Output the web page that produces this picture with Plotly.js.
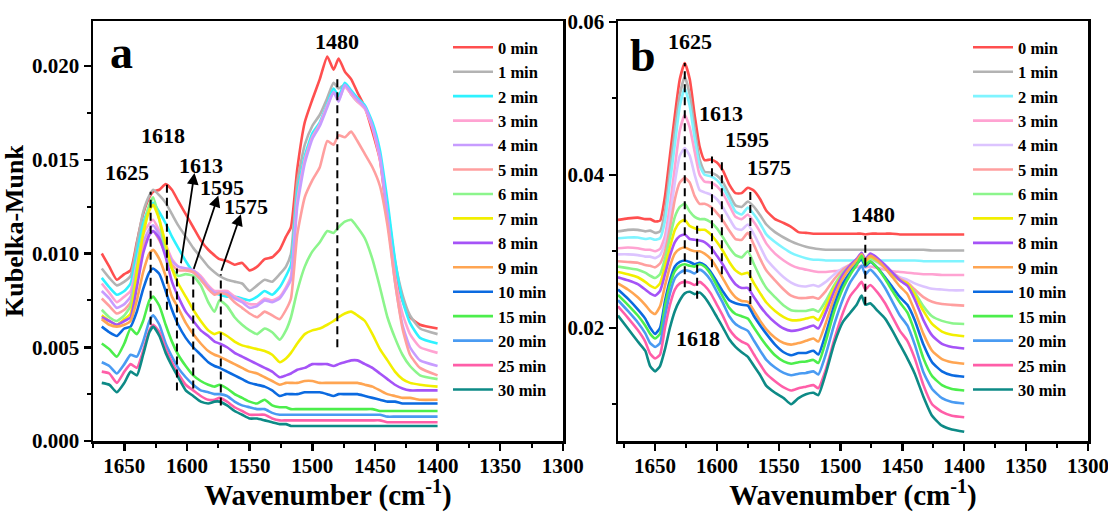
<!DOCTYPE html>
<html>
<head>
<meta charset="utf-8">
<script src="https://cdn.plot.ly/plotly-3.0.1.min.js"></script>
<style>html,body{margin:0;padding:0;background:#fff;}#chart{width:1108px;height:512px;}</style>
</head>
<body>
<div id="chart"></div>
<script>
// ---------- DATA ----------
const seriesNames = ["0 min","1 min","2 min","3 min","4 min","5 min","6 min","7 min","8 min","9 min","10 min","15 min","20 min","25 min","30 min"];
const colorsA = ["#ff4f4f","#b3b3b3","#2ef2ff","#ffa3d2","#c79cff","#ff9f9f","#8cf58c","#f2ef00","#a553f7","#ffa552","#0b6ae0","#4cee4c","#4a9bf2","#ff5ea8","#0d8a86"];
const colorsB = ["#ff4f4f","#b3b3b3","#7ff4ff","#ffa3d2","#dcc4ff","#ff9f9f","#8cf58c","#f2ef00","#a553f7","#ffa552","#0b6ae0","#4cee4c","#4a9bf2","#ff5ea8","#0d8a86"];

// Panel a wavenumbers (cm-1)
const wnA = [1668,1662,1656,1650,1645,1640,1635,1630,1627,1622,
             1617,1612,1607,1601,1595,1589,1583,1578,1574,1568,
             1562,1556,1550,1544,1538,1532,1526,1521,1517,1512,
             1506,1500,1494,1488,1483,1479,1474,1469,1464,1458,
             1452,1446,1440,1434,1428,1422,1414,1400];

const a0 = [.0100,.0093,.0086,.0089,.0091,.0106,.0121,.0130,.0133,.0134,
            .0137,.0134,.0128,.0121,.0114,.0107,.0102,.0099,.0097,.0096,
            .0094,.0095,.0091,.0093,.0097,.0098,.0102,.0109,.0114,.0145,
            .0170,.0182,.0193,.0205,.0198,.0204,.0197,.0193,.0186,.0178,
            .0165,.0150,.0118,.0090,.0075,.0066,.0062,.0060];
const a1 = [.0092,.0087,.0083,.0085,.0088,.0105,.0122,.0131,.0134,.0131,
            .0127,.0121,.0115,.0109,.0103,.0098,.0093,.0090,.0088,.0086,
            .0085,.0084,.0080,.0083,.0086,.0085,.0089,.0093,.0100,.0138,
            .0158,.0168,.0174,.0183,.0191,.0188,.0190,.0185,.0181,.0178,
            .0168,.0152,.0125,.0096,.0078,.0067,.0060,.0057];
const a2 = [.0087,.0082,.0078,.0080,.0084,.0100,.0116,.0125,.0127,.0122,
            .0116,.0109,.0103,.0096,.0090,.0086,.0082,.0079,.0078,.0077,
            .0077,.0076,.0075,.0077,.0080,.0078,.0082,.0088,.0094,.0132,
            .0152,.0164,.0170,.0180,.0188,.0184,.0191,.0187,.0183,.0179,
            .0170,.0155,.0128,.0097,.0075,.0063,.0055,.0052];
const a3 = [.0084,.0079,.0074,.0077,.0080,.0095,.0110,.0116,.0118,.0112,
            .0105,.0097,.0093,.0092,.0091,.0088,.0083,.0080,.0080,.0080,
            .0077,.0075,.0073,.0073,.0076,.0075,.0077,.0082,.0088,.0128,
            .0150,.0162,.0169,.0179,.0186,.0182,.0189,.0185,.0181,.0177,
            .0167,.0150,.0120,.0088,.0068,.0057,.0050,.0047];
const a4 = [.0080,.0076,.0071,.0073,.0077,.0092,.0106,.0113,.0115,.0110,
            .0103,.0096,.0093,.0092,.0091,.0087,.0082,.0079,.0079,.0079,
            .0076,.0074,.0071,.0072,.0075,.0074,.0076,.0081,.0086,.0125,
            .0148,.0161,.0168,.0178,.0186,.0181,.0190,.0186,.0182,.0178,
            .0168,.0152,.0120,.0085,.0062,.0050,.0043,.0040];
const a5 = [.0076,.0072,.0068,.0070,.0074,.0089,.0103,.0110,.0112,.0107,
            .0100,.0094,.0091,.0091,.0090,.0086,.0081,.0078,.0079,.0078,
            .0074,.0071,.0068,.0066,.0069,.0067,.0065,.0070,.0076,.0110,
            .0130,.0139,.0146,.0160,.0158,.0163,.0162,.0165,.0160,.0153,
            .0146,.0136,.0115,.0085,.0060,.0046,.0039,.0035];
const a6 = [.0070,.0066,.0064,.0067,.0072,.0092,.0112,.0126,.0130,.0118,
            .0100,.0092,.0088,.0089,.0088,.0083,.0074,.0069,.0075,.0072,
            .0066,.0062,.0059,.0057,.0060,.0058,.0054,.0059,.0066,.0080,
            .0093,.0101,.0106,.0112,.0111,.0114,.0117,.0118,.0114,.0108,
            .0097,.0082,.0066,.0055,.0046,.0040,.0035,.0033];
const a7 = [.0067,.0064,.0062,.0065,.0068,.0090,.0110,.0123,.0126,.0118,
            .0105,.0092,.0084,.0077,.0070,.0064,.0059,.0057,.0058,.0056,
            .0053,.0051,.0050,.0049,.0048,.0046,.0042,.0044,.0047,.0052,
            .0057,.0059,.0060,.0062,.0064,.0066,.0068,.0069,.0067,.0064,
            .0057,.0049,.0043,.0037,.0033,.0031,.0030,.0029];
const a8 = [.0066,.0064,.0062,.0064,.0066,.0082,.0100,.0110,.0112,.0108,
            .0098,.0085,.0077,.0069,.0064,.0059,.0056,.0053,.0052,.0050,
            .0047,.0045,.0043,.0041,.0039,.0037,.0034,.0035,.0036,.0038,
            .0039,.0041,.0041,.0041,.0040,.0041,.0042,.0043,.0043,.0041,
            .0039,.0036,.0033,.0030,.0028,.0027,.0027,.0027];
const a9 = [.0065,.0062,.0061,.0062,.0064,.0075,.0090,.0100,.0102,.0097,
            .0088,.0077,.0071,.0063,.0057,.0052,.0048,.0046,.0045,.0043,
            .0041,.0039,.0037,.0036,.0034,.0032,.0030,.0031,.0031,.0031,
            .0032,.0032,.0031,.0031,.0031,.0031,.0031,.0031,.0031,.0030,
            .0029,.0027,.0025,.0024,.0023,.0023,.0022,.0022];
const a10 = [.0061,.0058,.0056,.0060,.0061,.0069,.0081,.0090,.0092,.0089,
             .0080,.0070,.0062,.0055,.0050,.0046,.0042,.0040,.0039,.0037,
             .0035,.0033,.0031,.0030,.0029,.0027,.0024,.0025,.0025,.0025,
             .0026,.0026,.0026,.0025,.0024,.0025,.0025,.0025,.0025,.0024,
             .0023,.0022,.0021,.0021,.0020,.0020,.0020,.0020];
const a15 = [.0052,.0049,.0045,.0052,.0060,.0057,.0064,.0075,.0077,.0072,
             .0062,.0053,.0046,.0040,.0035,.0032,.0030,.0029,.0030,.0028,
             .0025,.0023,.0021,.0020,.0022,.0019,.0018,.0018,.0017,.0017,
             .0017,.0017,.0017,.0017,.0017,.0017,.0017,.0017,.0017,.0017,
             .0017,.0016,.0016,.0016,.0016,.0016,.0016,.0016];
const a20 = [.0042,.0040,.0036,.0041,.0046,.0045,.0053,.0064,.0067,.0062,
             .0052,.0045,.0039,.0034,.0030,.0027,.0026,.0025,.0025,.0024,
             .0021,.0019,.0018,.0017,.0017,.0015,.0014,.0014,.0014,.0014,
             .0014,.0014,.0014,.0014,.0014,.0014,.0014,.0014,.0014,.0014,
             .0014,.0014,.0013,.0013,.0013,.0013,.0013,.0013];
const a25 = [.0037,.0036,.0031,.0037,.0041,.0039,.0048,.0059,.0062,.0058,
             .0049,.0042,.0036,.0030,.0027,.0024,.0022,.0022,.0023,.0021,
             .0018,.0016,.0014,.0014,.0014,.0012,.0011,.0011,.0011,.0011,
             .0011,.0011,.0011,.0011,.0011,.0011,.0011,.0011,.0011,.0011,
             .0011,.0011,.0010,.0010,.0010,.0010,.0010,.0010];
const a30 = [.0031,.0030,.0026,.0031,.0037,.0035,.0046,.0058,.0061,.0056,
             .0047,.0040,.0034,.0027,.0024,.0021,.0020,.0021,.0021,.0019,
             .0016,.0014,.0012,.0012,.0011,.0010,.0009,.0009,.0008,.0008,
             .0008,.0008,.0008,.0008,.0008,.0008,.0008,.0008,.0008,.0008,
             .0008,.0008,.0008,.0008,.0008,.0008,.0008,.0008];

// Panel b wavenumbers (cm-1)
const wnB = [1680,1672,1664,1658,1654,1650,1646,1642,1638,1634,
             1630,1626,1622,1618,1614,1610,1605,1600,1595,1590,
             1585,1580,1575,1570,1565,1560,1553,1546,1540,1534,
             1528,1522,1518,1512,1505,1498,1492,1487,1483,1480,
             1476,1470,1464,1458,1452,1446,1440,1433,1426,1418,
             1410,1400];

const b0 = [.0341,.0343,.0344,.0342,.0342,.0339,.0340,.0372,.0425,.0478,
            .0525,.0546,.0525,.0478,.0437,.0419,.0420,.0416,.0405,.0387,
            .0376,.0376,.0383,.0379,.0368,.0353,.0342,.0337,.0332,.0325,
            .0324,.0323,.0323,.0323,.0323,.0323,.0323,.0323,.0323,.0322,
            .0323,.0323,.0323,.0323,.0322,.0322,.0322,.0322,.0322,.0322,
            .0322,.0322];
const b1 = [.0326,.0328,.0328,.0326,.0327,.0324,.0326,.0352,.0405,.0458,
            .0505,.0528,.0505,.0460,.0420,.0404,.0403,.0399,.0390,.0374,
            .0360,.0358,.0365,.0358,.0347,.0335,.0325,.0318,.0313,.0309,
            .0306,.0304,.0303,.0302,.0302,.0302,.0302,.0302,.0302,.0302,
            .0302,.0302,.0302,.0302,.0302,.0302,.0302,.0302,.0301,.0301,
            .0301,.0301];
const b2 = [.0317,.0318,.0318,.0316,.0317,.0315,.0317,.0340,.0390,.0440,
            .0490,.0513,.0490,.0448,.0412,.0400,.0398,.0393,.0383,.0368,
            .0352,.0348,.0357,.0348,.0336,.0322,.0312,.0304,.0298,.0294,
            .0291,.0289,.0289,.0288,.0288,.0288,.0288,.0288,.0288,.0288,
            .0288,.0288,.0288,.0288,.0288,.0288,.0288,.0287,.0287,.0287,
            .0287,.0287];
const b3 = [.0304,.0305,.0304,.0302,.0302,.0300,.0303,.0320,.0360,.0410,
            .0458,.0478,.0462,.0430,.0400,.0391,.0390,.0385,.0375,.0360,
            .0345,.0342,.0348,.0338,.0325,.0310,.0297,.0288,.0282,.0278,
            .0276,.0274,.0273,.0273,.0274,.0275,.0277,.0279,.0281,.0279,
            .0280,.0278,.0276,.0274,.0273,.0272,.0271,.0270,.0270,.0269,
            .0269,.0269];
const b4 = [.0296,.0296,.0295,.0293,.0293,.0291,.0295,.0310,.0345,.0390,
            .0425,.0435,.0425,.0400,.0380,.0377,.0374,.0368,.0357,.0343,
            .0330,.0328,.0335,.0322,.0306,.0290,.0277,.0266,.0259,.0255,
            .0254,.0256,.0254,.0260,.0270,.0278,.0283,.0288,.0292,.0286,
            .0290,.0285,.0278,.0272,.0266,.0263,.0258,.0254,.0251,.0250,
            .0249,.0249];
const b5 = [.0287,.0286,.0285,.0282,.0281,.0279,.0284,.0300,.0330,.0368,
            .0390,.0396,.0390,.0372,.0362,.0362,.0358,.0350,.0340,.0327,
            .0316,.0315,.0324,.0308,.0290,.0275,.0262,.0250,.0242,.0239,
            .0239,.0240,.0238,.0248,.0264,.0276,.0283,.0289,.0293,.0287,
            .0292,.0287,.0280,.0272,.0264,.0259,.0250,.0240,.0234,.0231,
            .0230,.0229];
const b6 = [.0280,.0278,.0276,.0272,.0268,.0265,.0270,.0290,.0318,.0345,
            .0358,.0362,.0352,.0345,.0342,.0342,.0338,.0330,.0318,.0305,
            .0295,.0292,.0300,.0283,.0266,.0252,.0240,.0229,.0223,.0222,
            .0222,.0224,.0221,.0235,.0256,.0272,.0281,.0288,.0293,.0286,
            .0291,.0286,.0279,.0270,.0262,.0257,.0246,.0228,.0215,.0209,
            .0206,.0205];
const b7 = [.0273,.0270,.0266,.0260,.0255,.0252,.0258,.0280,.0305,.0328,
            .0338,.0341,.0333,.0330,.0328,.0328,.0322,.0312,.0300,.0286,
            .0275,.0270,.0272,.0258,.0245,.0233,.0222,.0214,.0210,.0210,
            .0212,.0214,.0210,.0228,.0252,.0270,.0280,.0287,.0293,.0287,
            .0293,.0288,.0280,.0270,.0262,.0258,.0243,.0222,.0205,.0195,
            .0191,.0189];
const b8 = [.0266,.0262,.0257,.0250,.0245,.0242,.0248,.0270,.0294,.0312,
            .0320,.0322,.0316,.0315,.0314,.0312,.0305,.0294,.0282,.0268,
            .0257,.0252,.0252,.0240,.0228,.0218,.0207,.0199,.0196,.0197,
            .0200,.0203,.0199,.0220,.0248,.0270,.0282,.0290,.0298,.0290,
            .0297,.0291,.0282,.0272,.0262,.0255,.0237,.0210,.0190,.0179,
            .0175,.0173];
const b9 = [.0258,.0250,.0240,.0230,.0222,.0218,.0228,.0255,.0280,.0297,
            .0303,.0305,.0302,.0300,.0300,.0297,.0290,.0278,.0264,.0250,
            .0240,.0235,.0234,.0222,.0209,.0198,.0187,.0180,.0178,.0180,
            .0183,.0186,.0182,.0206,.0240,.0265,.0279,.0288,.0296,.0288,
            .0294,.0288,.0278,.0266,.0254,.0244,.0222,.0192,.0170,.0159,
            .0155,.0153];
const b10 = [.0250,.0238,.0224,.0212,.0200,.0192,.0200,.0235,.0262,.0280,
             .0286,.0288,.0286,.0283,.0285,.0282,.0273,.0260,.0247,.0236,
             .0232,.0230,.0229,.0215,.0203,.0192,.0178,.0168,.0164,.0167,
             .0167,.0170,.0165,.0192,.0230,.0258,.0273,.0283,.0290,.0280,
             .0286,.0278,.0266,.0253,.0240,.0230,.0210,.0178,.0155,.0143,
             .0138,.0136];
const b15 = [.0243,.0230,.0216,.0203,.0192,.0186,.0192,.0228,.0256,.0274,
             .0281,.0283,.0281,.0280,.0283,.0280,.0270,.0255,.0240,.0226,
             .0218,.0215,.0212,.0200,.0188,.0177,.0164,.0156,.0153,.0155,
             .0156,.0158,.0154,.0182,.0222,.0252,.0270,.0282,.0294,.0282,
             .0287,.0278,.0264,.0248,.0233,.0220,.0195,.0160,.0137,.0125,
             .0120,.0118];
const b20 = [.0236,.0222,.0207,.0193,.0180,.0175,.0180,.0215,.0245,.0265,
             .0272,.0275,.0274,.0271,.0276,.0272,.0262,.0247,.0232,.0215,
             .0205,.0200,.0196,.0183,.0170,.0158,.0148,.0141,.0138,.0140,
             .0141,.0143,.0139,.0165,.0205,.0238,.0260,.0272,.0281,.0270,
             .0276,.0266,.0252,.0234,.0216,.0203,.0178,.0142,.0120,.0108,
             .0103,.0101];
const b25 = [.0228,.0213,.0197,.0182,.0166,.0160,.0165,.0200,.0230,.0250,
             .0258,.0260,.0259,.0256,.0260,.0255,.0245,.0230,.0215,.0198,
             .0188,.0182,.0178,.0165,.0152,.0140,.0130,.0122,.0118,.0121,
             .0123,.0125,.0121,.0145,.0185,.0220,.0242,.0252,.0260,.0250,
             .0256,.0246,.0232,.0214,.0196,.0183,.0160,.0125,.0100,.0090,
             .0085,.0083];
const b30 = [.0216,.0199,.0182,.0170,.0150,.0143,.0150,.0172,.0200,.0222,
             .0236,.0245,.0247,.0244,.0246,.0240,.0228,.0214,.0200,.0185,
             .0175,.0168,.0162,.0150,.0138,.0124,.0115,.0108,.0100,.0108,
             .0113,.0115,.0112,.0140,.0180,.0208,.0220,.0230,.0242,.0230,
             .0232,.0222,.0212,.0196,.0178,.0160,.0140,.0110,.0085,.0072,
             .0067,.0064];

// Peak markers (dashed guide lines) and labels
const dashA_x  = [1629, 1616, 1608, 1595, 1573, 1480];
const dashA_lo = [0.0062, 0.0070, 0.0027, 0.0028, 0.0019, 0.0050];
const dashA_hi = [0.0133, 0.0137, 0.0092, 0.0089, 0.0089, 0.0195];
const dashB_x  = [1626, 1616, 1604, 1596, 1573, 1480];
const dashB_lo = [0.0253, 0.0238, 0.0279, 0.0270, 0.0231, 0.0230];
const dashB_hi = [0.0546, 0.0335, 0.0424, 0.0417, 0.0383, 0.0320];

const labA_text = ["1480","1618","1625","1613","1595","1575"];
const labA_x    = [1480.5, 1619, 1648, 1589, 1572, 1553];
const labA_y    = [0.0213, 0.0163, 0.0143, 0.0147, 0.0135, 0.0125];
const labB_text = ["1625","1613","1595","1575","1480","1618"];
const labB_x    = [1621.5, 1597, 1576, 1558, 1474, 1615];
const labB_y    = [0.0574, 0.0480, 0.0446, 0.0409, 0.0348, 0.0186];

const arrA_tailX = [1605, 1595, 1573];
const arrA_tailY = [0.0094, 0.0091, 0.0090];
const arrA_headX = [1594, 1575, 1557];
const arrA_headY = [0.0143, 0.0131, 0.0121];

const seriesA = [a0,a1,a2,a3,a4,a5,a6,a7,a8,a9,a10,a15,a20,a25,a30];
const seriesB = [b0,b1,b2,b3,b4,b5,b6,b7,b8,b9,b10,b15,b20,b25,b30];

// ---------- CHART ----------
const F = "Liberation Serif, Times New Roman, serif";
const traces = [];
seriesA.forEach((ys, i) => traces.push({
  x: wnA, y: ys, xaxis: 'x', yaxis: 'y', type: 'scatter', mode: 'lines',
  name: seriesNames[i], legend: 'legend',
  line: {color: colorsA[i], width: 2.6, shape: 'spline', smoothing: 0.5}
}));
seriesB.forEach((ys, i) => traces.push({
  x: wnB, y: ys, xaxis: 'x2', yaxis: 'y2', type: 'scatter', mode: 'lines',
  name: seriesNames[i], legend: 'legend2',
  line: {color: colorsB[i], width: 2.6, shape: 'spline', smoothing: 0.5}
}));

function ax(extra) {
  return Object.assign({
    showline: true, linewidth: 2.5, linecolor: 'black', mirror: true,
    ticks: 'outside', ticklen: 7, tickwidth: 2.5, tickcolor: 'black',
    showgrid: false, zeroline: false, ticklabeloverflow: 'allow',
    tickfont: {family: F, size: 21, weight: 'bold', color: 'black'}
  }, extra);
}
const xTitle = {text: 'Wavenumber (cm<sup>-1</sup>)', font: {family: F, size: 29, weight: 'bold', color: 'black'}, standoff: 17};

const shapes = [];
dashA_x.forEach((p, i) => shapes.push({type: 'line', xref: 'x', yref: 'y', x0: p, x1: p, y0: dashA_lo[i], y1: dashA_hi[i],
  line: {color: 'black', width: 2, dash: '8px,5px'}}));
dashB_x.forEach((p, i) => shapes.push({type: 'line', xref: 'x2', yref: 'y2', x0: p, x1: p, y0: dashB_lo[i], y1: dashB_hi[i],
  line: {color: 'black', width: 2, dash: '8px,5px'}}));

const lf = {family: F, size: 22, weight: 'bold', color: 'black'};
const annotations = [];
labA_text.forEach((t, i) => annotations.push({xref: 'x', yref: 'y', x: labA_x[i], y: labA_y[i], text: t, showarrow: false, font: lf}));
labB_text.forEach((t, i) => annotations.push({xref: 'x2', yref: 'y2', x: labB_x[i], y: labB_y[i], text: t, showarrow: false, font: lf}));
arrA_headX.forEach((hx, i) => annotations.push({xref: 'x', yref: 'y', axref: 'x', ayref: 'y', x: hx, y: arrA_headY[i],
  ax: arrA_tailX[i], ay: arrA_tailY[i], text: '', showarrow: true, arrowhead: 2, arrowsize: 1.3, arrowwidth: 1.8, arrowcolor: 'black'}));
annotations.push({xref: 'x', yref: 'y', x: 1652, y: 0.0207, text: 'a', showarrow: false, font: {family: F, size: 46, weight: 'bold', color: 'black'}});
annotations.push({xref: 'x2', yref: 'y2', x: 1660, y: 0.0556, text: 'b', showarrow: false, font: {family: F, size: 46, weight: 'bold', color: 'black'}});

const legFont = {family: F, size: 16.5, weight: 'bold', color: 'black'};
const layout = {
  width: 1108, height: 512,
  margin: {l: 0, r: 0, t: 0, b: 0},
  paper_bgcolor: '#ffffff', plot_bgcolor: '#ffffff',
  showlegend: true,
  xaxis: ax({domain: [93/1108, 563/1108], range: [1675, 1299.9], dtick: 50, tick0: 0, anchor: 'y', ticklabelstandoff: -3,
    minor: {dtick: 25, tick0: 0, ticks: 'outside', ticklen: 4, tickwidth: 2, tickcolor: 'black'}, title: xTitle}),
  yaxis: ax({domain: [71/512, 491/512], range: [0, 0.0224], dtick: 0.005, tick0: 0, tickformat: '.3f', anchor: 'x',
    minor: {dtick: 0.0025, tick0: 0, ticks: 'outside', ticklen: 4, tickwidth: 2, tickcolor: 'black'},
    title: {text: 'Kubelka-Munk', font: {family: F, size: 26, weight: 'bold', color: 'black'}, standoff: 5}}),
  xaxis2: ax({domain: [618/1108, 1088/1108], range: [1680, 1299.9], dtick: 50, tick0: 0, anchor: 'y2', ticklabelstandoff: -3,
    minor: {dtick: 25, tick0: 0, ticks: 'outside', ticklen: 4, tickwidth: 2, tickcolor: 'black'}, title: xTitle}),
  yaxis2: ax({domain: [71/512, 491/512], range: [0.0052, 0.0601], dtick: 0.02, tick0: 0, tickformat: '.2f', anchor: 'x2',
    minor: {dtick: 0.01, tick0: 0, ticks: 'outside', ticklen: 4, tickwidth: 2, tickcolor: 'black'}}),
  legend: {x: 448/1108, xanchor: 'left', y: 482/512, yanchor: 'top', font: legFont, bgcolor: 'rgba(0,0,0,0)', borderwidth: 0, tracegroupgap: 0, itemwidth: 40},
  legend2: {x: 968/1108, xanchor: 'left', y: 482/512, yanchor: 'top', font: legFont, bgcolor: 'rgba(0,0,0,0)', borderwidth: 0, tracegroupgap: 0, itemwidth: 40},
  shapes: shapes,
  annotations: annotations
};
Plotly.newPlot('chart', traces, layout, {staticPlot: true, displayModeBar: false});
</script>
</body>
</html>
